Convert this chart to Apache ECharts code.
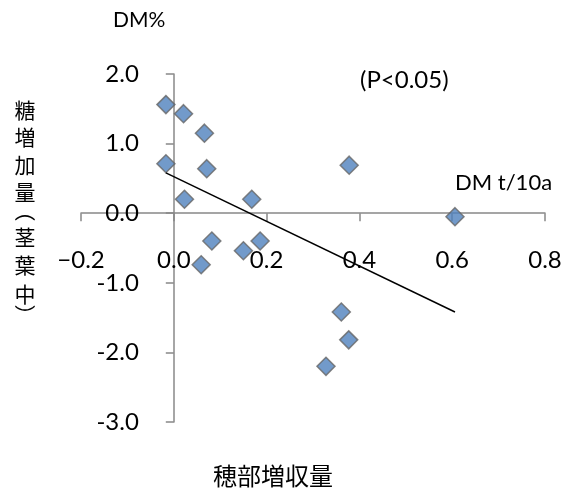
<!DOCTYPE html>
<html>
<head>
<meta charset="utf-8">
<script src="https://cdn.jsdelivr.net/npm/echarts@6/dist/echarts.min.js"></script>
<style>
  html, body { margin: 0; padding: 0; background: #fff; }
  #main { width: 566px; height: 490px; }
</style>
</head>
<body>
<div id="main"></div>
<script>
// 散布図の値（穂部増収量 vs 糖増加量）
const xValues = [-0.017, 0.021, 0.066, -0.017, 0.071, 0.023, 0.168, 0.082, 0.059, 0.150, 0.186, 0.378, 0.606, 0.361, 0.377, 0.328];
const yValues = [1.56, 1.43, 1.15, 0.71, 0.64, 0.20, 0.20, -0.40, -0.74, -0.54, -0.40, 0.69, -0.05, -1.42, -1.82, -2.20];
// 近似直線の両端
const trendX = [-0.017, 0.606];
const trendY = [0.58, -1.42];
const xTickLabels = ['\u22120.2', '0.0', '0.2', '0.4', '0.6', '0.8'];
const yTickLabels = ['-3.0', '-2.0', '-1.0', '0.0', '1.0', '2.0'];
// 縦書きの軸タイトル（1文字ずつ、括弧は回転させる）
const yTitleChars = ['糖', '増', '加', '量', '（', '茎', '葉', '中', '）'];
const yTitleCenters = [110, 137, 165, 192, 211, 237, 265, 294, 315];

const axisColor = '#888888';
const labelFont = 'Lato, "Liberation Sans", Arial, sans-serif';
const cjkFont = '"Noto Sans CJK JP", sans-serif';

// グリッド（軸の範囲）
const gridBox = { left: 81, right: 21, top: 74, bottom: 68 };
const W = 566, H = 490;
const xMin = -0.2, xMax = 0.8, yMin = -3, yMax = 2;
// 軸をゼロ位置へ移動（ラベルも一緒に動かすため offset を使う）
const plotW = W - gridBox.left - gridBox.right;
const plotH = H - gridBox.top - gridBox.bottom;
const xAxisOffset = -(plotH * (0 - yMin) / (yMax - yMin));
const yAxisOffset = -(plotW * (0 - xMin) / (xMax - xMin));

const chart = echarts.init(document.getElementById('main'));

const scatterData = xValues.map((x, i) => [x, yValues[i]]);
const trendData = trendX.map((x, i) => [x, trendY[i]]);

const yTitle = yTitleChars.map((ch, i) => ({
  type: 'text',
  x: 25, y: yTitleCenters[i],
  rotation: (ch === '（' || ch === '）') ? -Math.PI / 2 : 0,
  style: {
    text: ch, fontSize: 21, fontFamily: cjkFont, fill: '#000',
    textAlign: 'center', textVerticalAlign: 'middle'
  }
}));

const option = {
  animation: false,
  backgroundColor: '#fff',
  grid: Object.assign({ outerBoundsMode: 'none' }, gridBox),
  xAxis: {
    type: 'value',
    min: xMin, max: xMax, interval: 0.2,
    offset: xAxisOffset,
    axisLine: { onZero: false, lineStyle: { color: axisColor, width: 1.5 } },
    axisTick: { show: true, inside: false, length: 8, lineStyle: { color: axisColor, width: 1.5 } },
    axisLabel: {
      margin: 35, fontSize: 24, color: '#000', fontFamily: labelFont,
      formatter: (v, i) => xTickLabels[i]
    },
    splitLine: { show: false }
  },
  yAxis: {
    type: 'value',
    min: yMin, max: yMax, interval: 1,
    offset: yAxisOffset,
    axisLine: { show: true, onZero: false, lineStyle: { color: axisColor, width: 1.5 } },
    axisTick: { show: true, inside: false, length: 8, lineStyle: { color: axisColor, width: 1.5 } },
    axisLabel: {
      margin: 35, fontSize: 24, color: '#000', fontFamily: labelFont,
      formatter: (v, i) => yTickLabels[i]
    },
    splitLine: { show: false }
  },
  graphic: [
    { type: 'text', left: 113, top: 10,
      style: { text: 'DM%', fontSize: 21, fontFamily: labelFont, fill: '#000' } },
    { type: 'text', left: 360, top: 68,
      style: { text: '(P<0.05)', fontSize: 24, fontFamily: labelFont, fill: '#000' } },
    { type: 'text', left: 455, top: 172,
      style: { text: 'DM t/10a', fontSize: 22, fontFamily: labelFont, fill: '#000' } },
    { type: 'text', left: 213, top: 464,
      style: { text: '穂部増収量', fontSize: 24, fontFamily: cjkFont, fill: '#000' } }
  ].concat(yTitle),
  series: [
    {
      type: 'scatter',
      data: scatterData,
      symbol: 'diamond',
      symbolSize: 18,
      itemStyle: { color: '#4F81BD', borderColor: '#666666', borderWidth: 1.5 },
      z: 2
    },
    {
      type: 'line',
      data: trendData,
      showSymbol: false,
      symbol: 'none',
      lineStyle: { color: '#000', width: 1.5 },
      silent: true,
      z: 3
    }
  ]
};

chart.setOption(option);
</script>
</body>
</html>
